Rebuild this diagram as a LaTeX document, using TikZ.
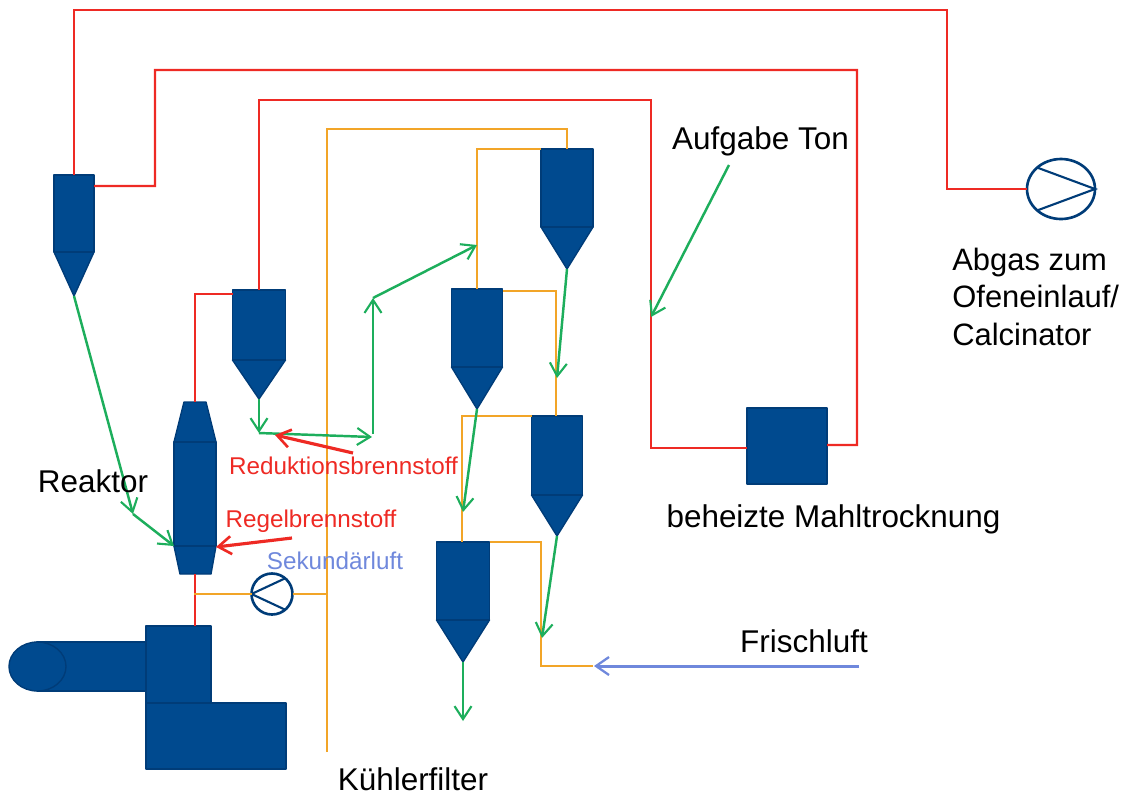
\documentclass[tikz,border=0pt]{standalone}
\usepackage{fontspec}
\setmainfont{Liberation Sans}
\usetikzlibrary{arrows.meta,shapes.geometric}
\definecolor{plantNavy}{HTML}{004A8F}
\definecolor{plantEdge}{HTML}{003C78}
\definecolor{gasRed}{HTML}{EE2A24}
\definecolor{airOrange}{HTML}{F2A528}
\definecolor{feedGreen}{HTML}{1DAE5C}
\definecolor{freshBlue}{HTML}{6F88DC}
\newcommand{\cyclone}[6]{%
  \node[vessel,minimum width=#6*0.02cm,minimum height={(#4-#3)*0.02cm}] (#1) at (#2,{(#3+#4)/2}) {};
  \coordinate (#1tip) at (#2,#5);
  \draw[vessel] (#1.south west) -- (#1.south east) -- (#1tip) -- cycle;
  \draw[divider] (#1.south west) -- (#1.south east);
}
\begin{document}
\begin{tikzpicture}[x=0.02cm,y=-0.02cm,
    vessel/.style={draw=plantEdge,fill=plantNavy,line width=0.8pt,line join=round,inner sep=0pt,outer sep=0pt},
    divider/.style={draw=plantEdge,line width=1.6pt},
    fan/.style={draw=plantEdge,fill=white,line width=1.5pt,inner sep=0pt,outer sep=0pt},
    fanline/.style={plantEdge,line width=1.2pt},
    redline/.style={gasRed,line width=1.4pt},
    orangeline/.style={airOrange,line width=1.6pt},
    greenarr/.style={-{Straight Barb[length=2.6mm,width=3.4mm,line width=1.2pt]},feedGreen,line width=1.4pt},
    bluearr/.style={-{Straight Barb[length=2.6mm,width=3.6mm,line width=1.3pt]},freshBlue,line width=1.7pt},
    fuelarr/.style={-{Straight Barb[length=2.6mm,width=3.6mm,line width=1.5pt]},gasRed,line width=1.8pt},
    txt/.style={inner sep=0pt,font=\fontsize{17.9}{21.4}\selectfont,align=left},
    smalltxt/.style={inner sep=0pt,font=\fontsize{13.8}{16}\selectfont}]
  \useasboundingbox (0,0) rectangle (1126,796);

  \cyclone{cycA}{74}{175}{252}{296}{40}
  \cyclone{cycB}{259}{290}{360}{399}{53}
  \cyclone{cycC}{567}{149}{227}{269}{52}
  \cyclone{cycD}{477}{289}{367}{409}{51}
  \cyclone{cycE}{557}{416}{495}{536}{51}
  \cyclone{cycF}{463}{542}{620}{662}{53}

  \node[vessel,minimum width=42*0.02cm,minimum height=104*0.02cm] (reaktor) at (195,494) {};
  \coordinate (reakTop) at (195,402);
  \coordinate (reakBot) at (195,574);
  \draw[vessel] (reaktor.north west) -- (184,402) -- (206,402) -- (reaktor.north east) -- cycle;
  \draw[vessel] (reaktor.south west) -- (180,574) -- (211,574) -- (reaktor.south east) -- cycle;
  \draw[divider] (reaktor.north west) -- (reaktor.north east);
  \draw[divider] (reaktor.south west) -- (reaktor.south east);

  \node[vessel,minimum width=80*0.02cm,minimum height=76*0.02cm] (mill) at (787,446) {};
  \node[vessel,minimum width=65*0.02cm,minimum height=77*0.02cm] (kammer) at (178.5,664.5) {};
  \node[vessel,minimum width=140*0.02cm,minimum height=66*0.02cm] (kuehler) at (216,736) {};
  \node[vessel,minimum width=109*0.02cm,minimum height=49*0.02cm] (rohr) at (91.5,666.5) {};
  \node[vessel,ellipse,minimum width=57*0.02cm,minimum height=49*0.02cm] (rohrEnd) at (37.5,666.5) {};

  \node[fan,ellipse,minimum width=68*0.02cm,minimum height=60*0.02cm] (fanAb) at (1061,189) {};
  \draw[fanline] (fanAb.138) -- (fanAb.east) -- (fanAb.222);
  \node[fan,circle,minimum size=41*0.02cm] (fanSek) at (272,594) {};
  \draw[fanline] (fanSek.50) -- (fanSek.west) -- (fanSek.-50);

  \coordinate (sekA) at (194,594);
  \coordinate (sekB) at (327,594);
  \coordinate (kuehlEnd) at (327,752);
  \draw[redline] (cycA.north) -- (74,10) -- (947,10) -- (947,189) -- (fanAb.west);
  \draw[redline] ([yshift=-0.22cm]cycA.north east) -- (155,186) -- (155,70) -- (857,70) -- (857,445) -- (mill.east |- 0,445);
  \draw[redline] (cycB.north) -- (259,100) -- (651,100) -- (651,448) -- (mill.west |- 0,448);
  \draw[redline] (reakTop) -- (195,294) -- (cycB.north west |- 195,294);
  \draw[redline] (reakBot) -- (kammer.north -| reakBot);

  \draw[orangeline] (kuehlEnd) -- (327,129) -- (567,129) -- (cycC.north);
  \draw[orangeline] (cycC.north west) -- (477,149) -- (cycD.north);
  \draw[orangeline] (cycD.north east |- 0,291) -- (556,291) -- (556,416);
  \draw[orangeline] (cycE.north west) -- (462,416) -- (462,542);
  \draw[orangeline] (cycF.north east) -- (541,542) -- (541,666) coordinate (frischEnd) -- (593,666);
  \draw[orangeline] (sekA) -- (fanSek.west);
  \draw[orangeline] (fanSek.east) -- (sekB);

  \coordinate (einlauf) at (133,514);
  \coordinate (knotB) at (259,433);
  \coordinate (knotC) at (372,437);
  \coordinate (knotD) at (373,298);
  \coordinate (knotE) at (477,245);
  \draw[greenarr] (cycAtip) -- (einlauf);
  \draw[greenarr] (einlauf) -- (reaktor.south west);
  \draw[greenarr] (cycBtip) -- (knotB);
  \draw[greenarr] (knotB) -- (knotC);
  \draw[greenarr] (373,434) -- (knotD);
  \draw[greenarr] (knotD) -- (knotE);
  \draw[greenarr] (cycCtip) -- (557,378);
  \draw[greenarr] (cycDtip) -- (463,512);
  \draw[greenarr] (cycEtip) -- (542,638);
  \draw[greenarr] (cycFtip) -- (463,721);

  \node[txt] (reaktorLbl) at (93,481) {Reaktor};
  \node[txt] (tonLbl) at (760.5,141) {Aufgabe Ton};
  \node[txt,anchor=north west,font=\fontsize{17.6}{21.4}\selectfont] (abgasLbl) at (952,247.5) {Abgas zum\\Ofeneinlauf/\\Calcinator};
  \node[txt] (millLbl) at (833.5,519) {beheizte Mahltrocknung};
  \node[txt] (frischLbl) at (804,641) {Frischluft};
  \node[txt] (filterLbl) at (413,779) {Kühlerfilter};
  \node[smalltxt,text=gasRed] (redLbl) at (343.5,466) {Reduktionsbrennstoff};
  \node[smalltxt,text=gasRed] (regelLbl) at (311,521) {Regelbrennstoff};
  \node[smalltxt,text=freshBlue] (sekLbl) at (335,561) {Sekundärluft};

  \draw[greenarr] (729,165) -- (651,317);
  \draw[bluearr] (859,666) -- (594,666);
  \draw[fuelarr] (353,453) -- (275,435);
  \draw[fuelarr] (292,538) -- (216,547);
\end{tikzpicture}
\end{document}
